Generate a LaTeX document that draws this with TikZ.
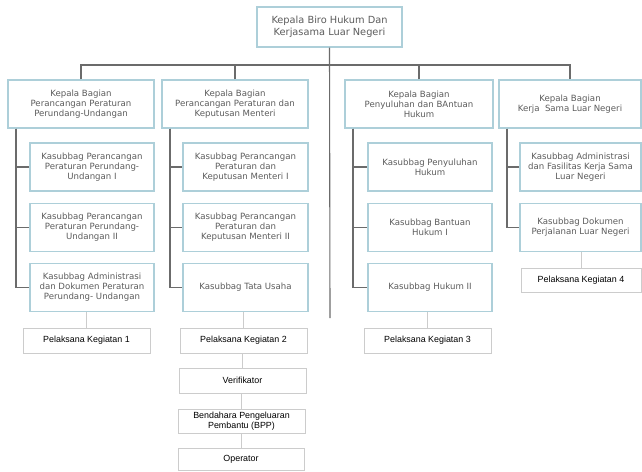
\documentclass[tikz,border=0pt]{standalone}
\usepackage{fontspec}
\setmainfont{DejaVu Sans}
\newfontfamily\pelfont{Liberation Sans}
\begin{document}
\begin{tikzpicture}[x=1pt,y=-1pt,
  kbox/.style={draw=kBlue,line width=1.1pt,fill=white,text=kText,align=center,
    inner sep=0pt,minimum height=48pt,font=\fontsize{8.6}{10}\selectfont},
  pbox/.style={draw=kLight,line width=0.8pt,fill=white,text=black,align=center,
    inner sep=0pt,font=\pelfont\fontsize{8.9}{10}\selectfont},
  conn/.style={draw=kGrey,line width=1.1pt},
  thin/.style={draw=kLight,line width=0.7pt}]
  % colors
  \definecolor{kBlue}{rgb}{0.68,0.81,0.85}
  \definecolor{kText}{rgb}{0.36,0.36,0.36}
  \definecolor{kGrey}{rgb}{0.42,0.42,0.42}
  \definecolor{kLight}{rgb}{0.80,0.80,0.80}
  % frame
  \useasboundingbox (0,0) rectangle (642,471);

  % top
  \node[kbox,minimum width=145pt,minimum height=40pt,font=\fontsize{9.8}{12}\selectfont]
    (biro) at (329.5,27) {Kepala Biro Hukum Dan\\Kerjasama Luar Negeri};

  % bagian
  \node[kbox,minimum width=146pt] (bag1) at (81,104)
    {Kepala Bagian\\Perancangan Peraturan\\Perundang-Undangan};
  \node[kbox,minimum width=146pt] (bag2) at (235,104)
    {Kepala Bagian\\Perancangan Peraturan dan\\Keputusan Menteri};
  \node[kbox,minimum width=148pt] (bag3) at (419,104)
    {Kepala Bagian\\Penyuluhan dan BAntuan\\Hukum};
  \node[kbox,minimum width=142pt] (bag4) at (570,104)
    {Kepala Bagian\\Kerja\ \ Sama Luar Negeri};

  % kasubbag
  \node[kbox,minimum width=124pt] (sub11) at (92,167)
    {Kasubbag Perancangan\\Peraturan Perundang-\\Undangan I};
  \node[kbox,minimum width=124pt] (sub12) at (92,227.5)
    {Kasubbag Perancangan\\Peraturan Perundang-\\Undangan II};
  \node[kbox,minimum width=124pt] (sub13) at (92,287.5)
    {Kasubbag Administrasi\\dan Dokumen Peraturan\\Perundang- Undangan};
  \node[kbox,minimum width=125pt] (sub21) at (245.5,167)
    {Kasubbag Perancangan\\Peraturan dan\\Keputusan Menteri I};
  \node[kbox,minimum width=125pt] (sub22) at (245.5,227.5)
    {Kasubbag Perancangan\\Peraturan dan\\Keputusan Menteri II};
  \node[kbox,minimum width=125pt] (sub23) at (245.5,287.5)
    {Kasubbag Tata Usaha};
  \node[kbox,minimum width=124pt] (sub31) at (430,167)
    {Kasubbag Penyuluhan\\Hukum};
  \node[kbox,minimum width=124pt] (sub32) at (430,227.5)
    {Kasubbag Bantuan\\Hukum I};
  \node[kbox,minimum width=124pt] (sub33) at (430,287.5)
    {Kasubbag Hukum II};
  \node[kbox,minimum width=121pt] (sub41) at (580.5,167)
    {Kasubbag Administrasi\\dan Fasilitas Kerja Sama\\Luar Negeri};
  \node[kbox,minimum width=121pt] (sub42) at (580.5,227.5)
    {Kasubbag Dokumen\\Perjalanan Luar Negeri};

  % pelaksana
  \node[pbox,minimum width=127pt,minimum height=25pt] (pel1) at (86.5,340.5) {Pelaksana Kegiatan 1};
  \node[pbox,minimum width=127pt,minimum height=25pt] (pel2) at (243.5,340.5) {Pelaksana Kegiatan 2};
  \node[pbox,minimum width=127pt,minimum height=25pt] (pel3) at (427.5,340.5) {Pelaksana Kegiatan 3};
  \node[pbox,minimum width=120pt,minimum height=24pt] (pel4) at (581,280) {Pelaksana Kegiatan 4};
  \node[pbox,minimum width=127pt,minimum height=25pt] (verif) at (242.5,380.5) {Verifikator};
  \node[pbox,minimum width=127pt,minimum height=24pt] (bpp) at (241.5,421)
    {Bendahara Pengeluaran\\Pembantu (BPP)};
  \node[pbox,minimum width=126pt,minimum height=22pt] (oper) at (241,459) {Operator};

  % lines
  \coordinate (bus) at (330,65);
  \coordinate (stem) at (330,318);
  \draw[conn] (biro.south) -- (stem);
  \draw[conn] (bag1.north) |- (bus) -| (bag4.north);
  \draw[conn] (bag2.north) -- (bag2.north |- bus);
  \draw[conn] (bag3.north) -- (bag3.north |- bus);
  \foreach \c/\n in {1/3,2/3,3/3,4/2} {
    \foreach \r in {1,...,\n}
      \draw[conn] ([xshift=8.5pt]bag\c.south west) |- (sub\c\r.west);
  };
  \foreach \p/\s in {pel1/sub13,pel2/sub23,pel3/sub33,pel4/sub42}
    \draw[thin] (\p.north) -- (\p.north |- \s.south);
  \draw[thin] (verif.north) -- (verif.north |- pel2.south);
  \draw[thin] (bpp.north) -- (bpp.north |- verif.south);
  \draw[thin] (oper.north) -- (oper.north |- bpp.south);
\end{tikzpicture}
\end{document}
